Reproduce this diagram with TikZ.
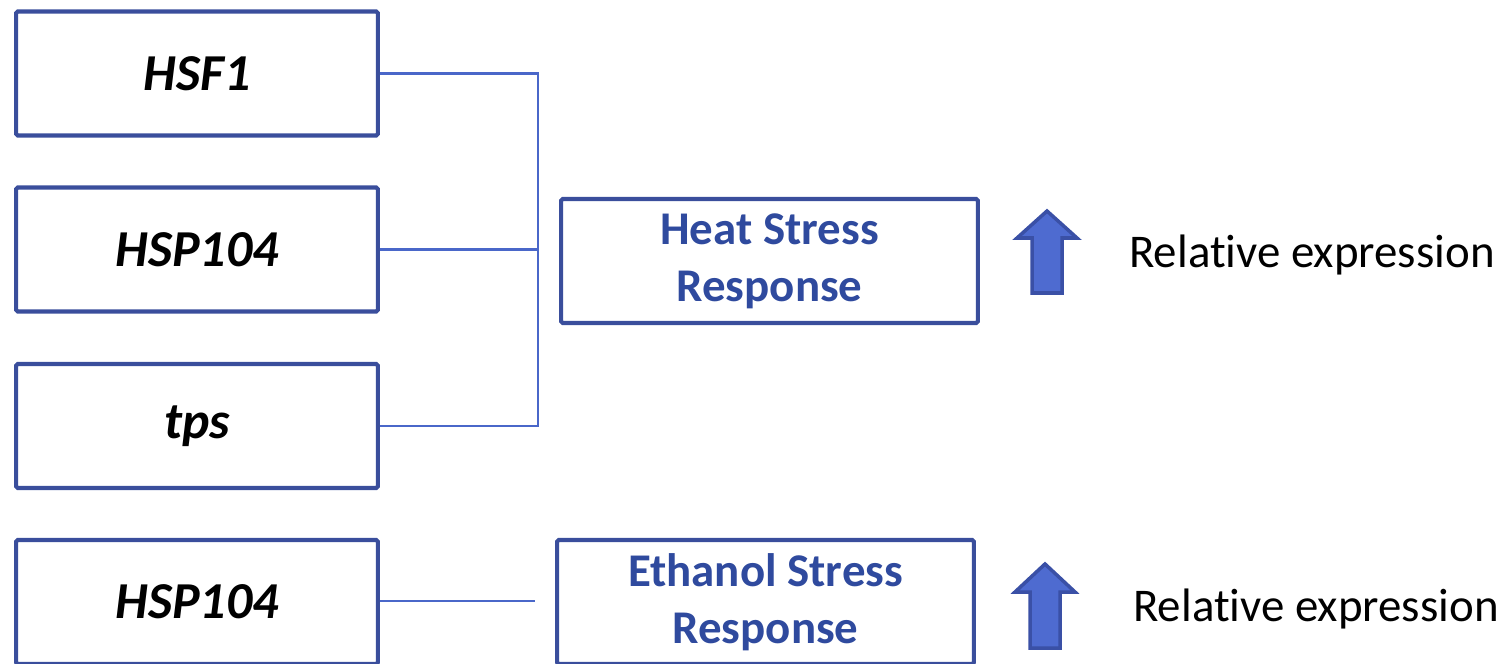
\documentclass[tikz,border=0pt]{standalone}
\usepackage{fontspec}
\setmainfont{Carlito}
\definecolor{boxblue}{HTML}{3A4E9C}
\definecolor{linkblue}{HTML}{4A67C9}
\definecolor{textblue}{HTML}{2F4A9E}
\definecolor{upfill}{HTML}{4E6BD0}
\definecolor{upline}{HTML}{3A50A6}
\newcommand{\relexpr}{Relat\kern0pt ive expression}

\begin{document}
\begin{tikzpicture}[x=0.02cm,y=-0.02cm,
  gene node/.style={draw=boxblue,line width=2.3pt,rounded corners=1pt,
    minimum width=7.24cm,minimum height=2.48cm,inner sep=0pt,
    font=\fontsize{29.5}{34}\selectfont\bfseries\itshape},
  stress node/.style={draw=boxblue,line width=2.3pt,rounded corners=1pt,
    minimum width=8.34cm,minimum height=2.48cm,inner sep=0pt,align=center,
    text=textblue,font=\fontsize{26.7}{32.5}\selectfont\bfseries},
  expr node/.style={font=\fontsize{26.7}{32}\selectfont},
  link/.style={draw=linkblue,line width=1.2pt},
  up arrow/.style={fill=upfill,draw=upline,line width=2pt,line join=miter}]
  \useasboundingbox (0,0) rectangle (1508,663);

  % genes
  \node[gene node] (hsf) at (197,73.5) {HSF1};
  \node[gene node] (hsp) at (197,249.5) {HSP104};
  \node[gene node] (tps) at (197,426) {tps};
  \node[gene node] (hspb) at (197,602) {HSP104};

  % responses
  \node[stress node] (heat) at (769.5,261) {Heat Stress\\Response};
  \node[stress node] (eth) at (765.5,602) {Ethanol Stress\\Response};

  % connectors
  \coordinate (bus) at (538,0);
  \coordinate (ethin) at (535,601);
  \draw[link] (hsf.east) -- (hsf.east -| bus) |- (tps.east);
  \draw[link] (hsp.east) -- (hsp.east -| bus);
  \draw[link] (hspb.east |- ethin) -- (ethin);

  % up arrows
  \draw[up arrow] (1047,211) -- (1077,238) -- (1062,238) -- (1062,293)
    -- (1032,293) -- (1032,238) -- (1017,238) -- cycle;
  \draw[up arrow] (1045,564) -- (1075,592) -- (1060,592) -- (1060,648)
    -- (1030,648) -- (1030,592) -- (1015,592) -- cycle;

  \node[expr node] (exprheat) at (1312,255) {\relexpr};
  \node[expr node] (expreth) at (1316,609) {\relexpr};
\end{tikzpicture}
\end{document}
